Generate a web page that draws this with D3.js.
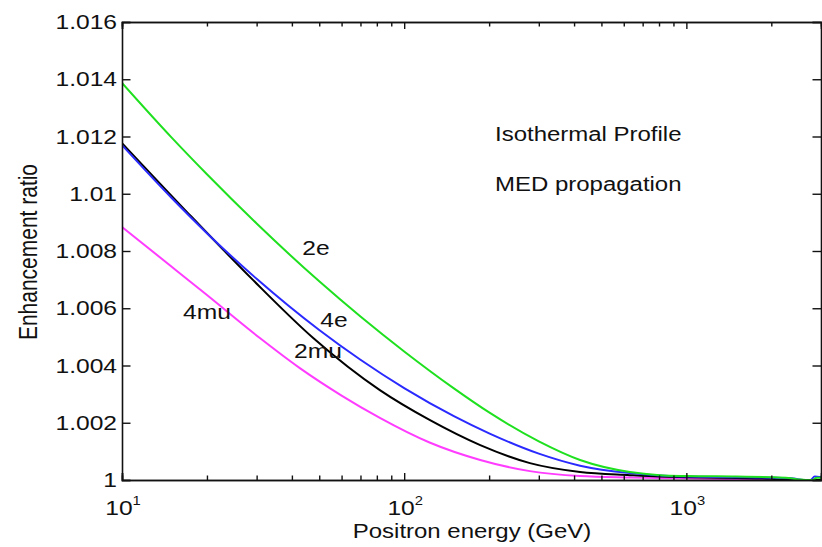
<!DOCTYPE html>
<html>
<head>
<meta charset="utf-8">
<script src="https://cdn.jsdelivr.net/npm/d3@7"></script>
<style>
  html, body { margin: 0; padding: 0; background: #fff; }
  svg { display: block; }
  text { font-family: "Liberation Sans", Arial, Helvetica, sans-serif; fill: #111; }
</style>
</head>
<body>
<svg id="chart" width="822" height="547"></svg>
<script>
// Positron energy samples (GeV) and enhancement ratios per annihilation channel
const energy2e   = [10, 15, 20, 30, 50, 70, 100, 150, 200, 300, 420, 631, 805, 1000, 1500, 2000, 2300, 2500, 2650, 2800, 2900, 3000];
const ratio2e    = [1.01387, 1.01196, 1.01068, 1.00896, 1.00694, 1.00571, 1.00449, 1.00320, 1.00236, 1.00135, 1.00070, 1.00028, 1.00017, 1.00014, 1.00012, 1.00010, 1.00007, 1.00002, 1.00000, 1.00000, 1.00008, 1.00008];

const energy4e   = [10, 15, 20, 30, 50, 70, 100, 150, 200, 300, 420, 631, 805, 1000, 1500, 2000, 2400, 2600, 2750, 2850, 3000];
const ratio4e    = [1.01170, 1.00985, 1.00862, 1.00703, 1.00524, 1.00420, 1.00321, 1.00223, 1.00163, 1.00092, 1.00050, 1.00024, 1.00016, 1.00012, 1.00010, 1.00008, 1.00005, 1.00000, 1.00000, 1.00012, 1.00010];

const energy2mu  = [10, 17, 29.1, 47.6, 82, 123, 186, 279, 420, 631, 805, 1000, 1500, 2000, 2300, 3000];
const ratio2mu   = [1.01177, 1.00936, 1.00699, 1.00496, 1.00314, 1.00210, 1.00122, 1.00059, 1.00028, 1.00017, 1.00012, 1.00010, 1.00007, 1.00004, 1.00000, 1.00000];

const energy4mu  = [10, 15, 20, 30.8, 42.8, 60, 82, 123, 186, 279, 420, 631, 1000, 1500, 2000, 3000];
const ratio4mu   = [1.00884, 1.00745, 1.00646, 1.00496, 1.00390, 1.00295, 1.00217, 1.00131, 1.00070, 1.00031, 1.00014, 1.00009, 1.00006, 1.00003, 1.00000, 1.00000];

const channelNames  = ["4mu", "2mu", "4e", "2e"];
const channelColors = ["#ff3cff", "#000000", "#2a2aff", "#1fe01f"];

const yTickValues = [1, 1.002, 1.004, 1.006, 1.008, 1.01, 1.012, 1.014, 1.016];
const yTickLabels = ["1", "1.002", "1.004", "1.006", "1.008", "1.01", "1.012", "1.014", "1.016"];
const xMajorTicks = [10, 100, 1000];
const xMajorExp   = ["1", "2", "3"];
const xMinorTicks = [20, 30, 40, 50, 60, 70, 80, 90, 200, 300, 400, 500, 600, 700, 800, 900, 2000];

// Plot geometry
const plotLeft = 122, plotRight = 821, plotTop = 22, plotBottom = 480;
const stretch = 1.23;   // glyphs drawn wide

const svg = d3.select("#chart");
const x = d3.scaleLog().domain([10, 3000]).range([plotLeft, plotRight]);
const y = d3.scaleLinear().domain([1, 1.016]).range([plotBottom, plotTop]);

svg.append("defs").append("clipPath").attr("id", "plotClip")
  .append("rect").attr("x", plotLeft).attr("y", plotTop)
  .attr("width", plotRight - plotLeft).attr("height", plotBottom - plotTop);

// Curves
const series = [
  { e: energy4mu, r: ratio4mu },
  { e: energy2mu, r: ratio2mu },
  { e: energy4e,  r: ratio4e },
  { e: energy2e,  r: ratio2e }
];
const line = d3.line()
  .x(d => x(d[0]))
  .y(d => y(d[1]))
  .curve(d3.curveMonotoneX);

const curves = svg.append("g").attr("clip-path", "url(#plotClip)");
series.forEach((s, i) => {
  curves.append("path")
    .datum(s.e.map((v, j) => [v, s.r[j]]))
    .attr("d", line)
    .attr("fill", "none")
    .attr("stroke", channelColors[i])
    .attr("stroke-width", 2)
    .attr("stroke-linejoin", "round");
});

// Axes box with inward ticks on all four sides
const axisColor = "#111";
svg.append("g").attr("transform", `translate(0,${plotBottom})`)
  .call(d3.axisBottom(x).tickValues(xMajorTicks).tickSize(-7).tickFormat(""));
svg.append("g").attr("transform", `translate(0,${plotBottom})`)
  .call(d3.axisBottom(x).tickValues(xMinorTicks).tickSize(-4.5).tickFormat(""));
svg.append("g").attr("transform", `translate(0,${plotTop})`)
  .call(d3.axisTop(x).tickValues(xMajorTicks).tickSize(-7).tickFormat(""));
svg.append("g").attr("transform", `translate(0,${plotTop})`)
  .call(d3.axisTop(x).tickValues(xMinorTicks).tickSize(-4.5).tickFormat(""));
svg.append("g").attr("transform", `translate(${plotLeft},0)`)
  .call(d3.axisLeft(y).tickValues(yTickValues).tickSize(-8.5).tickFormat(""));
svg.append("g").attr("transform", `translate(${plotRight},0)`)
  .call(d3.axisRight(y).tickValues(yTickValues).tickSize(-8.5).tickFormat(""));

svg.selectAll(".domain").attr("stroke", axisColor).attr("stroke-width", 1.6);
svg.selectAll(".tick line").attr("stroke", axisColor).attr("stroke-width", 1.4);

// Text helper: wide glyphs anchored at (px, py)
function wideText(px, py, str, size, anchor) {
  return svg.append("text")
    .attr("transform", `translate(${px},${py}) scale(${stretch},1)`)
    .attr("text-anchor", anchor || "start")
    .attr("font-size", size)
    .text(str);
}

// Y tick labels
yTickValues.forEach((v, i) => {
  wideText(plotLeft - 5, y(v) + 7, yTickLabels[i], 20, "end");
});

// X tick labels as powers of ten
xMajorTicks.forEach((v, i) => {
  const t = svg.append("text")
    .attr("transform", `translate(${x(v) + 1},515) scale(${stretch},1)`)
    .attr("text-anchor", "middle")
    .attr("font-size", 20);
  t.append("tspan").text("10");
  t.append("tspan").attr("font-size", 12).attr("dy", -10).text(xMajorExp[i]);
});

// Axis titles
wideText(472, 538, "Positron energy (GeV)", 19.5, "middle");
svg.append("text")
  .attr("transform", `translate(37,${(plotTop + plotBottom) / 2 + 1}) rotate(-90) scale(1,${stretch})`)
  .attr("text-anchor", "middle")
  .attr("font-size", 21)
  .text("Enhancement ratio");

// Channel labels
wideText(316, 255, "2e", 20, "middle");
wideText(334, 327, "4e", 20, "middle");
wideText(318, 358, "2mu", 20, "middle");
wideText(207, 319, "4mu", 20, "middle");

// Annotation
wideText(495, 141, "Isothermal Profile", 19.5, "start");
wideText(495, 191, "MED propagation", 19.5, "start");
</script>
</body>
</html>
